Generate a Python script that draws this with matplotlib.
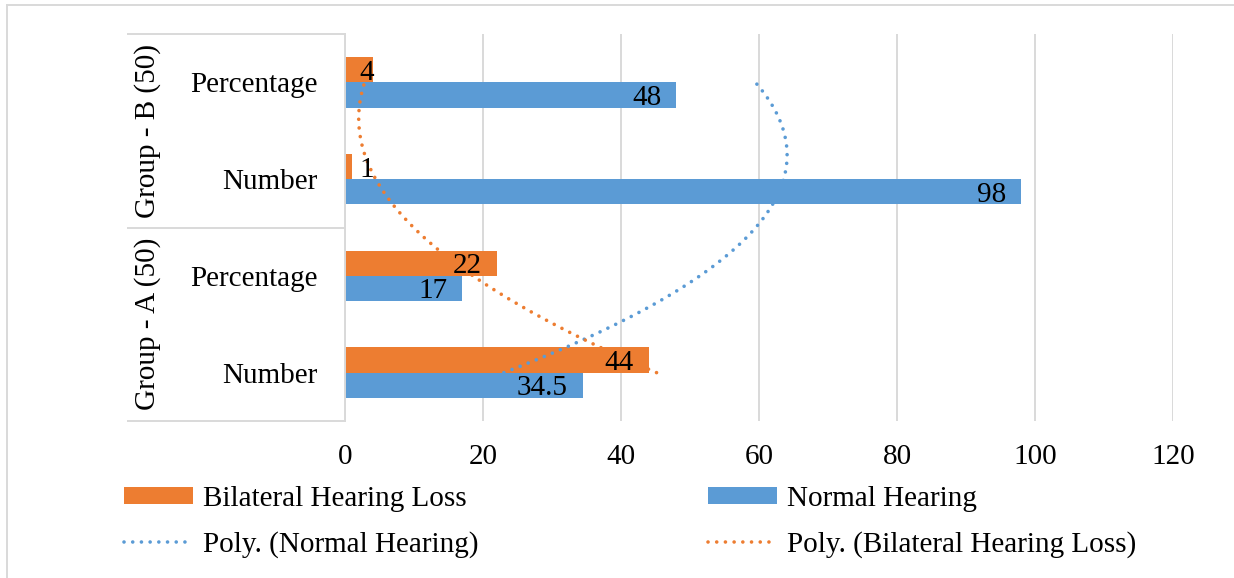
import numpy as np
import matplotlib.pyplot as plt
import matplotlib.transforms as mtransforms
from matplotlib.lines import Line2D

categories = ['Number', 'Percentage', 'Number', 'Percentage']
groups = ['Group - A (50)', 'Group - B (50)']
bilateral = [44, 22, 1, 4]
normal = [34.5, 17, 98, 48]
x_ticks = [0, 20, 40, 60, 80, 100, 120]

ORANGE = '#ED7D31'
BLUE = '#5B9BD5'
GRID = '#D9D9D9'

plt.rcParams['font.family'] = ['Liberation Serif', 'DejaVu Serif']
plt.rcParams['font.size'] = 21

W, H = 1234, 578
fig = plt.figure(figsize=(W / 100, H / 100), dpi=100)
ax = fig.add_axes([345 / W, 1 - 421 / H, 828 / W, 387 / H])

pos = np.arange(len(categories))
h = 0.26
bars_b = ax.barh(pos + h / 2, bilateral, height=h, color=ORANGE,
                 label='Bilateral Hearing Loss', zorder=2)
bars_n = ax.barh(pos - h / 2, normal, height=h, color=BLUE,
                 label='Normal Hearing', zorder=2)

# order 2 polynomial trendlines, like the Excel ones
t = np.linspace(pos[0], pos[-1], 300)
fit_n = np.polyval(np.polyfit(pos, normal, 2), t)
fit_b = np.polyval(np.polyfit(pos, bilateral, 2), t)
dots = (0, (0.01, 2.4))
ln_n, = ax.plot(fit_n, t, color=BLUE, lw=2.6, ls=dots, dash_capstyle='round',
                zorder=3, label='Poly. (Normal Hearing)')
ln_b, = ax.plot(fit_b, t, color=ORANGE, lw=2.6, ls=dots, dash_capstyle='round',
                zorder=3, label='Poly. (Bilateral Hearing Loss)')


def label_bars(bars, values):
    for bar, v in zip(bars, values):
        yc = bar.get_y() + bar.get_height() / 2
        if v < 10:
            ax.annotate(f'{v:g}', (0, yc), xytext=(14, -10), textcoords='offset pixels',
                        ha='left', va='baseline', zorder=4)
        else:
            ax.annotate(f'{v:g}', (v, yc), xytext=(-15, -10), textcoords='offset pixels',
                        ha='right', va='baseline', zorder=4)


label_bars(bars_b, bilateral)
label_bars(bars_n, normal)

ax.set_xlim(0, 120)
ax.set_ylim(-0.5, 3.5)
ax.set_xticks(x_ticks)
ax.set_yticks(pos, categories)
ax.tick_params(axis='y', length=0, pad=19.5)
ax.tick_params(axis='x', length=0, pad=16.5)
ax.xaxis.grid(True, color=GRID, lw=1.4)
ax.set_axisbelow(True)
for s in ['top', 'right', 'bottom']:
    ax.spines[s].set_visible(False)
ax.spines['left'].set_color(GRID)
ax.spines['left'].set_linewidth(1.4)

# box around the two-level category labels
trans = mtransforms.blended_transform_factory(ax.transAxes, ax.transData)
for yy in [-0.5, 1.5, 3.5]:
    ax.plot([-0.262, 0], [yy, yy], transform=trans, color=GRID, lw=1.4, clip_on=False)
ax.text(-0.239, 0.5, groups[0], rotation=90, transform=trans, ha='center', va='center')
ax.text(-0.239, 2.5, groups[1], rotation=90, transform=trans, ha='center', va='center')

handles = [bars_b, ln_n, bars_n, ln_b]
fig.legend(handles=handles, labels=[hd.get_label() for hd in handles], ncol=2,
           loc='upper left', bbox_to_anchor=(124 / W, 1 - 486 / H), frameon=False,
           borderpad=0, borderaxespad=0, handlelength=2.38, handleheight=0.5,
           handletextpad=0.34, columnspacing=7.84, labelspacing=0.64)

# chart area border (cut off at right and bottom)
fig.add_artist(Line2D([7 / W, 7 / W], [0, 1 - 5 / H], transform=fig.transFigure, color=GRID, lw=1.4))
fig.add_artist(Line2D([7 / W, 1], [1 - 5 / H, 1 - 5 / H], transform=fig.transFigure, color=GRID, lw=1.4))

fig.savefig('out.png', dpi=100)
